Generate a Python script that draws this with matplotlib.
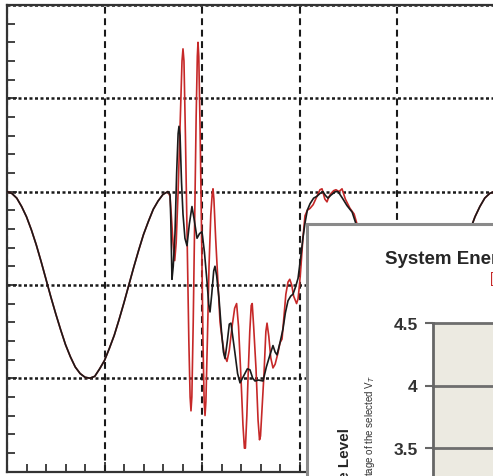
import matplotlib
matplotlib.use("Agg")
import matplotlib.pyplot as plt
from matplotlib.ticker import MultipleLocator, FormatStrFormatter

# ---------------- data (time in ms, voltage in p.u.) ----------------
pre_t = [0, 0.5, 1, 1.5, 2, 2.5, 3, 3.5, 4, 4.5, 5, 5.5, 6, 6.5, 7, 7.5, 8, 8.5,
         9, 9.5, 10, 10.5, 11, 11.5, 12, 12.5, 13, 13.5, 14, 14.5, 15, 15.5, 16, 16.5]
pre_v = [1.00, 0.98, 0.93, 0.84, 0.73, 0.59, 0.43, 0.25, 0.06, -0.13, -0.31, -0.48,
         -0.64, -0.77, -0.88, -0.95, -0.99, -1.00, -0.98, -0.90, -0.81, -0.68, -0.54,
         -0.37, -0.19, 0.00, 0.19, 0.37, 0.54, 0.68, 0.81, 0.90, 0.97, 1.00]

black_t = [16.72, 16.8, 16.92, 17.05, 17.23, 17.4, 17.55, 17.64, 17.75, 17.9, 18.05,
           18.25, 18.46, 18.7, 18.97, 19.2, 19.49, 19.75, 20.0, 20.25, 20.51, 20.7,
           20.82, 21.0, 21.2, 21.33, 21.5, 21.74, 22.0, 22.2, 22.36, 22.6, 22.8, 22.97,
           23.15, 23.38, 23.65, 23.9, 24.15, 24.41, 24.65, 24.92, 25.2, 25.44, 25.8,
           26.26, 26.6, 26.97, 27.28, 27.5, 27.69, 28.0, 28.31, 28.55, 28.82, 29.1,
           29.33, 29.6, 29.85, 30.15, 30.35, 30.56, 30.8, 31.08, 31.45, 31.79, 32.1,
           32.41, 32.65, 32.92, 33.2, 33.44, 33.7, 33.95, 34.4, 34.87, 35.4, 35.9]
black_v = [0.97, 0.70, 0.06, 0.20, 0.55, 1.20, 1.62, 1.70, 1.60, 1.10, 0.76,
           0.50, 0.42, 0.65, 0.84, 0.70, 0.50, 0.55, 0.57, 0.35, 0.04, -0.22,
           -0.29, -0.10, 0.15, 0.20, 0.10, -0.14, -0.50, -0.72, -0.79, -0.60, -0.42, -0.41,
           -0.55, -0.73, -0.95, -1.05, -1.00, -0.95, -0.90, -0.91, -1.00, -1.03, -1.02,
           -1.03, -0.88, -0.75, -0.65, -0.72, -0.75, -0.62, -0.47, -0.30, -0.17, -0.12,
           -0.10, -0.02, 0.07, 0.32, 0.50, 0.66, 0.80, 0.87, 0.93, 0.95, 0.98,
           1.00, 0.96, 0.93, 0.96, 0.98, 1.00, 1.00, 0.93, 0.85, 0.78, 0.62]

red_t = [16.72, 16.85, 17.03, 17.2, 17.35, 17.55, 17.8, 17.95, 18.05, 18.15, 18.3,
         18.46, 18.65, 18.78, 18.87, 18.96, 19.1, 19.25, 19.4, 19.52, 19.59, 19.67,
         19.8, 19.95, 20.1, 20.22, 20.31, 20.4, 20.55, 20.72, 20.9, 21.05, 21.13,
         21.22, 21.4, 21.6, 21.85, 22.05, 22.3, 22.56, 22.8, 23.08, 23.35, 23.55,
         23.75, 24.0, 24.2, 24.35, 24.45, 24.6, 24.72, 24.9, 25.05, 25.15, 25.3,
         25.54, 25.75, 25.9, 26.0, 26.2, 26.36, 26.55, 26.67, 26.85, 27.05, 27.28,
         27.5, 27.79, 28.0, 28.21, 28.4, 28.6, 28.82, 29.0, 29.2, 29.4, 29.7, 29.85,
         30.0, 30.15, 30.35, 30.56, 30.8, 31.08, 31.4, 31.79, 32.1, 32.31, 32.6,
         32.82, 33.0, 33.23, 33.5, 33.74, 34.05, 34.36, 34.7, 35.18, 35.6, 35.99]
red_v = [0.95, 0.75, 0.45, 0.26, 0.45, 1.00, 1.90, 2.40, 2.53, 2.40, 1.60,
         0.60, -0.60, -1.20, -1.35, -1.20, -0.40, 0.70, 1.80, 2.45, 2.60, 2.45,
         1.70, 0.60, -0.60, -1.25, -1.40, -1.25, -0.60, 0.20, 0.75, 0.98, 1.03,
         0.92, 0.50, 0.10, -0.40, -0.57, -0.75, -0.82, -0.70, -0.45, -0.25, -0.20,
         -0.45, -1.00, -1.50, -1.75, -1.75, -1.40, -1.00, -0.50, -0.22, -0.20, -0.45,
         -0.90, -1.45, -1.66, -1.62, -1.25, -0.95, -0.50, -0.41, -0.55, -0.78, -0.89,
         -0.85, -0.73, -0.62, -0.58, -0.35, -0.10, 0.03, 0.06, 0.00, -0.12, -0.20, -0.15,
         0.00, 0.20, 0.50, 0.74, 0.80, 0.82, 0.86, 0.95, 1.02, 1.03, 0.92,
         0.89, 0.94, 0.98, 1.01, 1.02, 1.00, 1.03, 0.92, 0.82, 0.76, 0.62]

post_t = [36.5, 37, 37.5, 38, 38.5, 39, 39.5, 40, 40.5, 41, 41.5, 42, 42.5, 43, 43.5,
          44, 44.5, 45, 45.5, 46, 46.5, 47, 47.5, 48, 48.5, 49, 49.5, 50, 50.5, 51]
post_v = [0.37, 0.19, 0.00, -0.19, -0.37, -0.54, -0.68, -0.81, -0.90, -0.97, -1.00,
          -0.99, -0.95, -0.88, -0.77, -0.64, -0.48, -0.31, -0.13, 0.06, 0.25, 0.43,
          0.59, 0.73, 0.84, 0.93, 0.98, 1.00, 0.98, 0.93]

inset_title = "System Energy Level"
inset_ylabel = "Storage Level"
inset_ylabel2 = "Voltage of the selected V$_T$"
inset_yticks = [2.5, 3.0, 3.5, 4.0, 4.5]

# ---------------- figure ----------------
W, H = 493, 477
fig = plt.figure(figsize=(W / 100, H / 100), dpi=100)
fig.patch.set_facecolor("white")


def fx(x):
    return x / W


def fy(y):
    return 1 - y / H


# main axes (extends beyond the right edge of the canvas)
left, top, bottom = 7, 6, 472.5
xmax = 60.0
px_per_ms = 9.75
ax = fig.add_axes([fx(left), fy(bottom), (xmax * px_per_ms) / W, (bottom - top) / H])
ax.set_xlim(0, xmax)
ax.set_ylim(-2, 3)

bt = pre_t + black_t + post_t
bv = pre_v + black_v + post_v
rt = pre_t + red_t + post_t
rv = pre_v + red_v + post_v
ax.plot(rt, rv, color="#C62828", lw=1.2, zorder=3)
ax.plot(bt, bv, color="#1a1a1a", lw=1.2, zorder=4)

ax.xaxis.set_major_locator(MultipleLocator(10))
ax.xaxis.set_minor_locator(MultipleLocator(2))
ax.yaxis.set_major_locator(MultipleLocator(1))
ax.yaxis.set_minor_locator(MultipleLocator(0.2))
ax.tick_params(which="both", direction="in", labelleft=False, labelbottom=False,
               top=False, right=False, color="#222222", width=1.2)
ax.tick_params(which="major", length=7)
ax.tick_params(which="minor", length=6)
ax.xaxis.grid(True, which="major", color="#1a1a1a", lw=1.5, ls=(0, (3.3, 2.2)))
ax.yaxis.grid(True, which="major", color="#1a1a1a", lw=1.8, ls=(0, (1.2, 1.0)))
for s in ax.spines.values():
    s.set_color("#333333")
    s.set_linewidth(1.6)

# ---------------- inset panel ----------------
box = fig.add_axes([fx(307), fy(700), fx(800) - fx(307), fy(225) - fy(700)], zorder=5)
box.set_xticks([])
box.set_yticks([])
box.set_facecolor("white")
for s in box.spines.values():
    s.set_color("#8a8a8a")
    s.set_linewidth(2.2)

ins_top = 324
ppu = 125.0  # pixels per unit
ins = fig.add_axes([fx(433), fy(ins_top + ppu * 2), fx(900) - fx(433), (ppu * 2) / H], zorder=6)
ins.set_facecolor("#ECEAE1")
ins.set_ylim(2.5, 4.5)
ins.set_xlim(0, 1)
ins.set_yticks(inset_yticks)
ins.yaxis.set_major_formatter(FormatStrFormatter("%g"))
ins.set_xticks([])
ins.tick_params(axis="y", direction="out", length=6, width=1.5, color="#666666",
                pad=5, labelsize=12.5)
for lab in ins.get_yticklabels():
    lab.set_fontweight("bold")
    lab.set_fontfamily("Liberation Sans")
    lab.set_color("#333333")
for y in inset_yticks:
    ins.axhline(y, color="#6e6e6e", lw=2.0, clip_on=False)
for name, s in ins.spines.items():
    if name == "left":
        s.set_color("#666666")
        s.set_linewidth(2.0)
    else:
        s.set_visible(False)

fig.text(fx(385), fy(259), inset_title, fontsize=13.5, fontweight="bold",
         family="Liberation Sans", color="#262626", ha="left", va="center", zorder=7)
fig.text(fx(490), fy(279), "[", fontsize=10, color="#C62828",
         family="Liberation Sans", ha="left", va="center", zorder=7)
fig.text(fx(345), fy(428), inset_ylabel, fontsize=11, fontweight="bold",
         family="Liberation Sans", color="#262626", rotation=90,
         ha="center", va="top", zorder=7)
fig.text(fx(370), fy(375), inset_ylabel2, fontsize=7,
         family="Liberation Sans", color="#333333", rotation=90,
         ha="center", va="top", zorder=7)

fig.savefig("out.png", dpi=100)
